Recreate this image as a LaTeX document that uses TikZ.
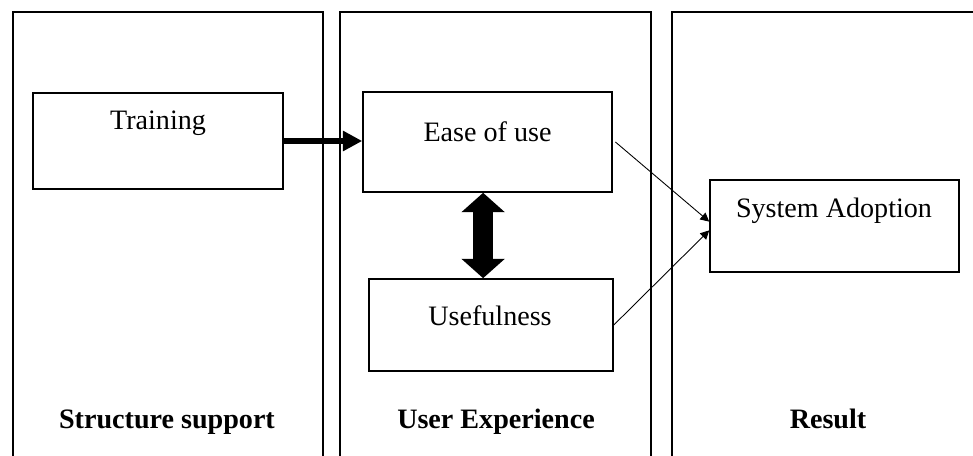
\documentclass[tikz,border=0pt]{standalone}
\usepackage{fontspec}
\setmainfont{Liberation Serif}
\usetikzlibrary{arrows.meta}
\begin{document}
\begin{tikzpicture}[x=0.02cm,y=-0.02cm,
    font=\fontsize{16}{19}\selectfont,
    box/.style={draw,line width=0.9pt,inner sep=0pt}]
                \useasboundingbox (0,0) rectangle (973,456);
                \draw [line width=1.1pt] (13,470) |- (323,12) -- (323,470);
                \draw [line width=1.1pt] (340,470) |- (651,12) -- (651,470);
                \draw [line width=1.1pt] (672,470) |- (990,12);
                \node [box,minimum width=250*0.02cm,minimum height=96*0.02cm] (train) at (158,141) {};
                \node [anchor=base] (traintext) at (158,130) {Training};
                \node [box,minimum width=249*0.02cm,minimum height=100*0.02cm] (ease) at (487.5,142) {};
                \node [anchor=base] (easetext) at (487.5,141) {Ease of use};
                \node [box,minimum width=244*0.02cm,minimum height=92*0.02cm] (use) at (491,325) {};
                \node [anchor=base] (usetext) at (490,325) {Usefulness};
                \node [box,minimum width=249*0.02cm,minimum height=92*0.02cm] (sys) at (834.5,226) {};
                \node [anchor=base] (systext) at (834,217) {System Adoption};
                \node [anchor=base,font=\fontsize{16}{19}\selectfont\bfseries] (lab1) at (167,428) {Structure support};
                \node [anchor=base,font=\fontsize{16}{19}\selectfont\bfseries] (lab2) at (496,428) {User Experience};
                \node [anchor=base,font=\fontsize{16}{19}\selectfont\bfseries] (lab3) at (828,428) {Result};
                \draw [-{Triangle[length=11pt,width=11pt]},line width=3.6pt] (train.east) -- (train.east -| ease.west);
                \draw [{Triangle[length=11pt,width=24pt]}-{Triangle[length=11pt,width=24pt]},line width=11pt] ([xshift=-2.5pt]ease.south) -- ([xshift=-2.5pt]ease.south |- use.north);
                \draw [-{Triangle[length=5pt,width=5pt]},line width=0.5pt] ([xshift=1.5pt]ease.east) -- (sys.178);
                \draw [-{Triangle[length=5pt,width=5pt]},line width=0.5pt] (use.east) -- (sys.182);
            \end{tikzpicture}
\end{document}
